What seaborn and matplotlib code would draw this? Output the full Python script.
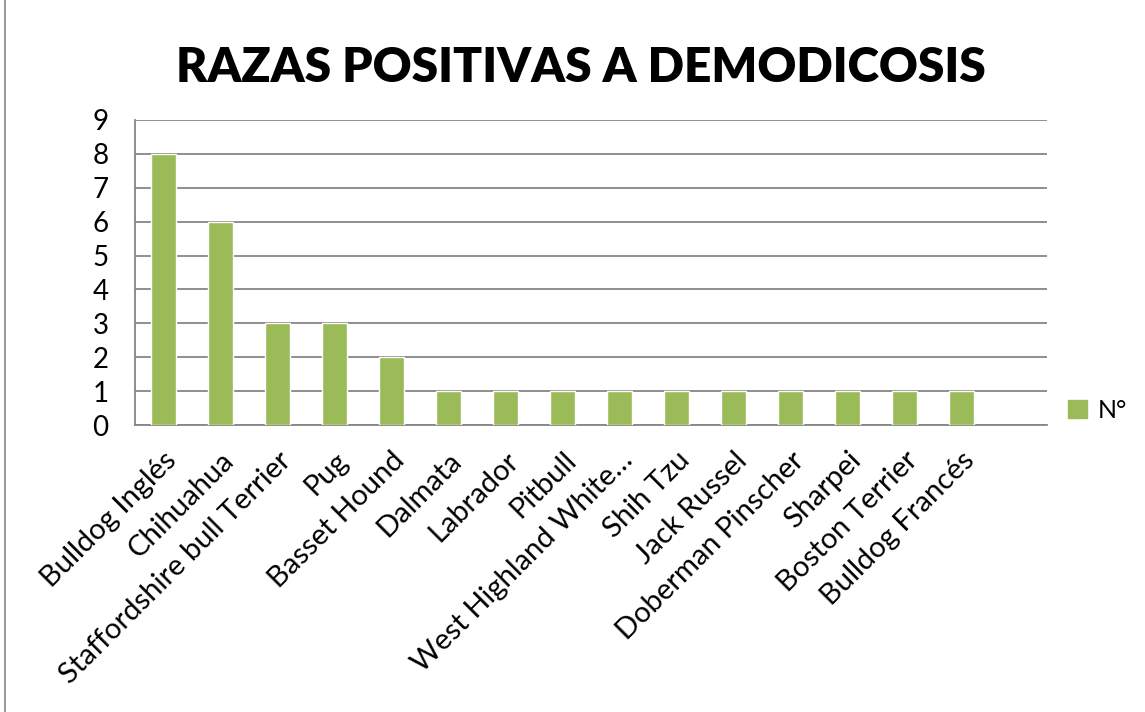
import matplotlib
matplotlib.use("Agg")
import matplotlib.pyplot as plt
import seaborn as sns
import pandas as pd
from matplotlib.lines import Line2D
from matplotlib.patches import Patch

razas = ["Bulldog Inglés", "Chihuahua", "Staffordshire bull Terrier", "Pug",
         "Basset Hound", "Dalmata", "Labrador", "Pitbull",
         "West Highland White…", "Shih Tzu", "Jack Russel", "Doberman Pinscher",
         "Sharpei", "Boston Terrier", "Bulldog Francés"]
valores = [8, 6, 3, 3, 2, 1, 1, 1, 1, 1, 1, 1, 1, 1, 1]
y_ticks = [0, 1, 2, 3, 4, 5, 6, 7, 8, 9]
titulo = "RAZAS POSITIVAS A DEMODICOSIS"
serie = "N°"

sns.set_style("white")
plt.rcParams['font.family'] = ['Lato', 'DejaVu Sans']
plt.rcParams['text.color'] = 'black'
plt.rcParams['xtick.labelcolor'] = 'black'
plt.rcParams['ytick.labelcolor'] = 'black'

GREEN = "#9BBB59"
GRAY = "#868686"

fig = plt.figure(figsize=(11.45, 7.12), dpi=100)
ax = fig.add_axes([135/1145, 1-425/712, (1047-135)/1145, (425-120)/712])

df = pd.DataFrame({"raza": razas, "n": valores})
sns.barplot(data=df, x="raza", y="n", color=GREEN, saturation=1, width=0.44, ax=ax, zorder=3)

n_slots = len(razas) + 1
ax.set_xlim(-0.5, n_slots - 0.5)
ax.set_ylim(0, 9)
ax.set_yticks(y_ticks)
ax.set_yticklabels([str(v) for v in y_ticks], fontsize=20)
ax.set_xticks(range(len(razas)))
ax.set_xticklabels(razas, rotation=45, ha="right", va="top", rotation_mode="anchor", fontsize=21)
ax.set_xticks([i - 0.5 for i in range(n_slots + 1)], minor=True)
ax.tick_params(axis="x", which="major", length=0, pad=16)
ax.tick_params(axis="x", which="minor", length=6.5, width=1.2, color=GRAY, direction="out")
ax.tick_params(axis="y", length=7, width=1.2, color=GRAY, direction="out", pad=12)
ax.set_xlabel("")
ax.set_ylabel("")
ax.yaxis.grid(True, color=GRAY, linewidth=1.3, zorder=0)
ax.set_axisbelow(True)
for s in ["top", "right"]:
    ax.spines[s].set_visible(False)
for s in ["left", "bottom"]:
    ax.spines[s].set_color(GRAY)
    ax.spines[s].set_linewidth(1.3)

fig.text(581/1145, 1-68/712, titulo, ha="center", va="center", fontsize=34.5,
         fontweight="heavy", color="black")

handle = Patch(facecolor=GREEN, edgecolor=GREEN)
fig.legend([handle], [serie], loc="center left", bbox_to_anchor=(1068/1145, 1-410/712),
           frameon=False, fontsize=18, handlelength=0.75, handleheight=0.75, handletextpad=0.45,
           borderpad=0, borderaxespad=0)

fig.add_artist(Line2D([5/1145, 5/1145], [0, 1], color=GRAY, linewidth=1.2, transform=fig.transFigure))

fig.savefig("out.png", dpi=100)
